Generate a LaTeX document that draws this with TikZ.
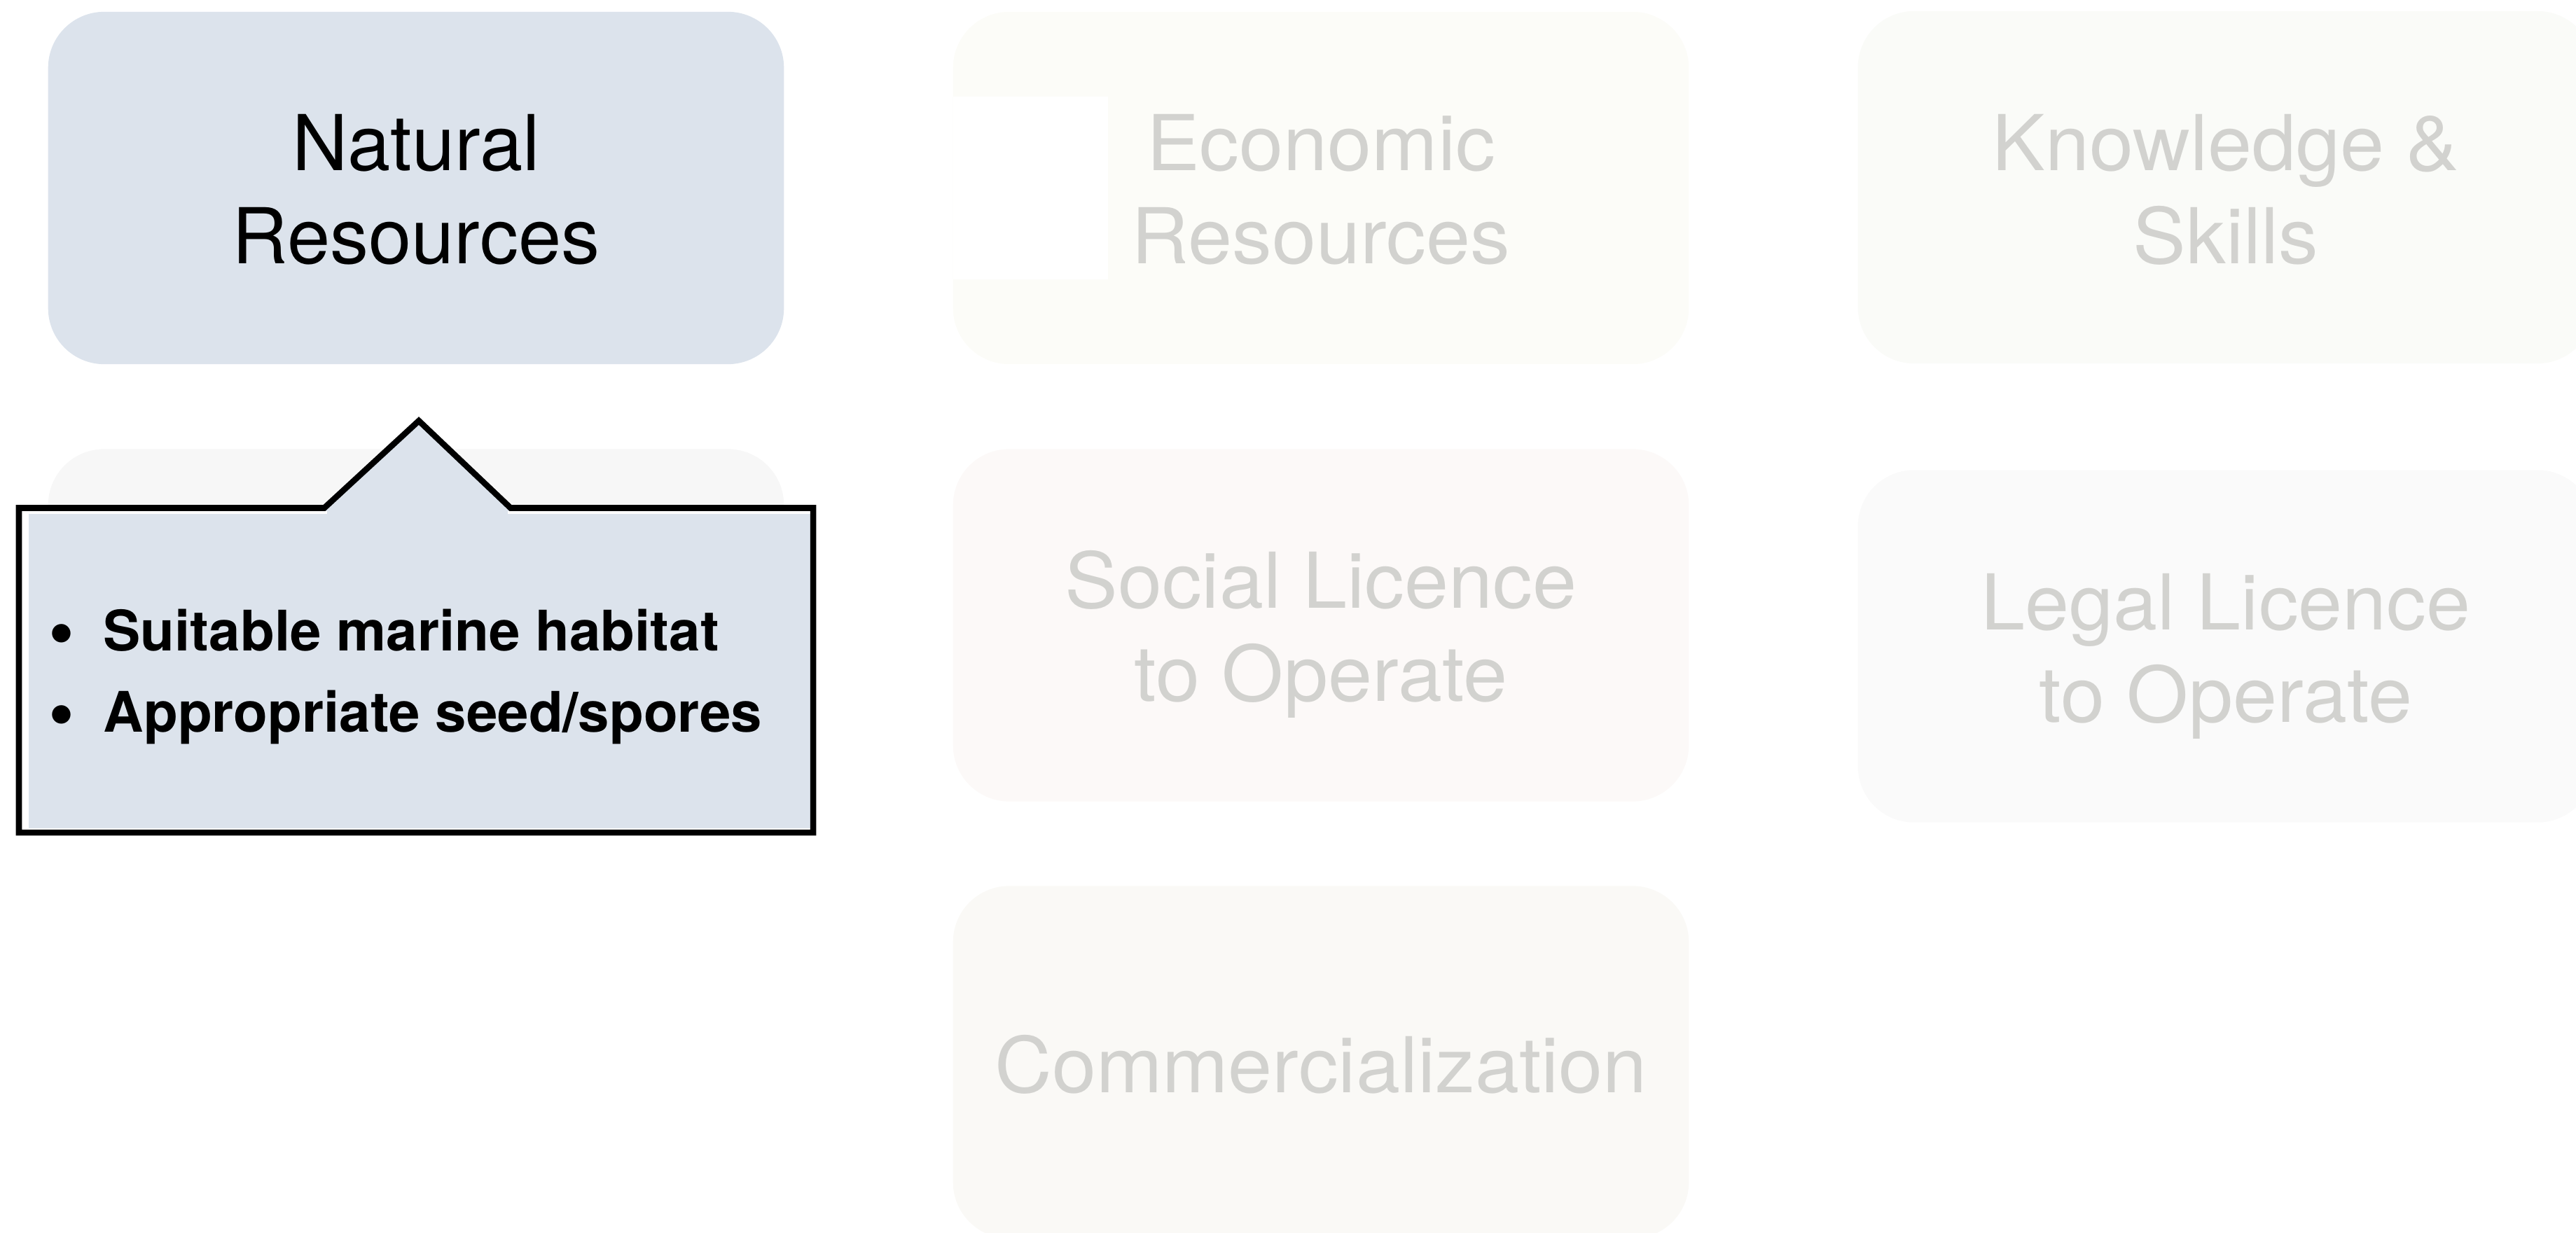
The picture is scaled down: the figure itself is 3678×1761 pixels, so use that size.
\documentclass[tikz,border=0pt]{standalone}
\usepackage{fontspec}
\setmainfont{TeX Gyre Heros}
\newfontfamily\dimfont[FakeStretch=1.03]{TeX Gyre Heros}
\definecolor{natfill}{HTML}{DCE3EC}
\definecolor{ecofill}{HTML}{FCFCF8}
\definecolor{knofill}{HTML}{FAFBF8}
\definecolor{socfill}{HTML}{FCF9F8}
\definecolor{legfill}{HTML}{FAFAFA}
\definecolor{comfill}{HTML}{FAF9F6}
\definecolor{hidfill}{HTML}{F7F7F7}
\definecolor{dimtext}{HTML}{D2D2CF}
\tikzset{
  card/.style={rectangle, rounded corners=0.8cm, draw=none, inner sep=0,
               minimum width=10.5cm, minimum height=5.03cm},
  big/.style={font=\fontsize{31.3}{38}\selectfont, inner sep=0, anchor=base},
  dim/.style={font=\dimfont\fontsize{31.3}{38}\selectfont, inner sep=0, anchor=base, text=dimtext},
  bul/.style={font=\fontsize{22.7}{30}\selectfont\bfseries, inner sep=0, anchor=base west},
  bulmark/.style={font=\fontsize{30}{34}\selectfont\bfseries, inner sep=0, anchor=base west},
  callline/.style={line width=0.085cm, line join=miter, draw=black}
}
\begin{document}
\begin{tikzpicture}[x=0.01cm,y=-0.01cm]
\useasboundingbox (0,0) rectangle (3678,1761);
\clip (0,0) rectangle (3678,1761);

% cards
\node[card, fill=natfill] (nat) at (594,268.5) {};
\node[card, fill=ecofill] (eco) at (1886,268.5) {};
\node[card, fill=knofill] (kno) at (3178,267.5) {};
\node[card, fill=hidfill] (hid) at (594,893) {};
\node[card, fill=socfill] (soc) at (1886,893) {};
\node[card, fill=legfill] (leg) at (3178,923) {};
\node[card, fill=comfill] (com) at (1886,1517) {};

% white cut-out on the economic card
\fill[white] (1361,138) rectangle (1582,399);

% card texts
\node[big] (natA) at (594,244) {Natural};
\node[big] (natB) at (594,377) {Resources};
\node[dim] (ecoA) at (1886,244) {Economic};
\node[dim] (ecoB) at (1886,377) {Resources};
\node[dim] (knoA) at (3178,244) {Knowledge \&};
\node[dim] (knoB) at (3178,377) {Skills};
\node[dim] (socA) at (1886,868) {Social Licence};
\node[dim] (socB) at (1886,1001) {to Operate};
\node[dim] (legA) at (3178,899) {Legal Licence};
\node[dim] (legB) at (3178,1031) {to Operate};
\node[dim] (comA) at (1886,1560) {Commercialization};

% callout
\fill[natfill] (27,725.5) -- (463,725.5) -- (598,601) -- (729,725.5) -- (1161,725.5) -- (1161,1189) -- (27,1189) -- cycle;
\fill[white] (31,729.5) rectangle (41,1185);
\fill[white] (31,729.5) rectangle (467,734);
\fill[white] (725,729.5) rectangle (1157,734);
\fill[white] (31,1183) rectangle (1157,1185);
\draw[callline] (27,1189) -- (27,725.5) -- (463,725.5) -- (598,601) -- (729,725.5) -- (1161,725.5) -- (1161,1189) -- cycle;

\node[bulmark] (b1) at (69,936) {•};
\node[bul] (t1) at (147,929) {Suitable marine habitat};
\node[bulmark] (b2) at (69,1052) {•};
\node[bul] (t2) at (147,1045) {Appropriate seed/spores};
\end{tikzpicture}
\end{document}
